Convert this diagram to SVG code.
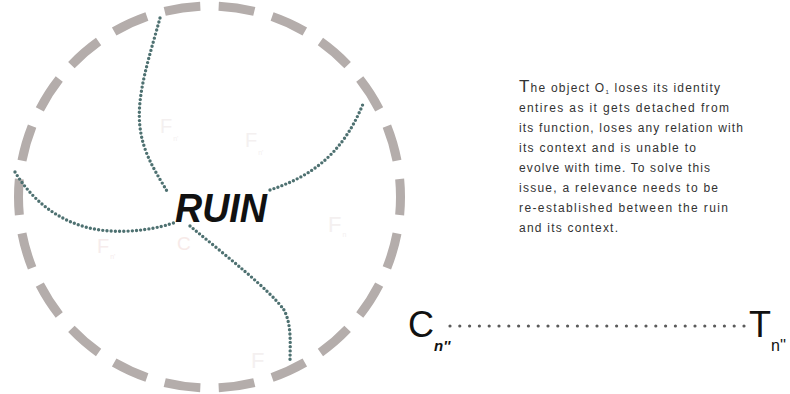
<svg xmlns="http://www.w3.org/2000/svg" width="790" height="394" viewBox="0 0 790 394">
  <style>
    .ring { fill: none; stroke: #b4adab; stroke-width: 9; stroke-dasharray: 0.66 0.34; stroke-dashoffset: 0.33; }
    .branch { fill: none; stroke: #4e7171; stroke-width: 3.4; stroke-linecap: round; stroke-dasharray: 0 4.2; }
    .link { fill: none; stroke: #5a5a5a; stroke-width: 3.2; stroke-linecap: round; stroke-dasharray: 0 9.8; }
    .ghost { font-family: "Liberation Sans", Arial, sans-serif; fill: #f4f0f0; }
    .ghost .sub { font-size: 7px; }
    .body { font-family: "Liberation Sans", Arial, sans-serif; font-size: 12px; fill: #333333; }
    .big { font-family: "Liberation Sans", Arial, sans-serif; fill: #111111; }
  </style>

  <rect width="790" height="394" fill="#ffffff"/>

  <!-- dashed boundary ring -->
  <g id="ring">
    <circle class="ring" cx="209.5" cy="197" r="191" pathLength="22"/>
  </g>

  <!-- faint function labels inside the ring -->
  <g id="faint-labels" class="ghost">
    <text x="160" y="133" font-size="20">F<tspan class="sub" dx="1" dy="8">n'</tspan></text>
    <text x="245" y="147" font-size="20">F<tspan class="sub" dx="1" dy="8">n'</tspan></text>
    <text x="97" y="253" font-size="20" fill="#f6ecec">F<tspan class="sub" dx="1" dy="6">n'</tspan></text>
    <text x="328" y="232" font-size="22">F<tspan class="sub" dx="1" dy="5">n</tspan></text>
    <text x="251" y="368" font-size="22">F</text>
    <text x="177" y="250" font-size="19" fill="#f7eae8">C</text>
  </g>

  <!-- dotted branches radiating from the ruin -->
  <g id="connectors">
    <path class="branch" d="M160,18 C150,55 136,95 140,127 C143,155 158,175 168,193"/>
    <path class="branch" d="M270,190 C305,178 340,160 363,104"/>
    <path class="branch" d="M15,172 C35,205 65,225 100,230 C130,234 160,228 176,222"/>
    <path class="branch" d="M190,226 C225,255 270,290 284,310 C292,325 290,345 290,363"/>
    <path class="link" d="M450,326 H745"/>
  </g>

  <!-- central label -->
  <g id="ruin">
    <text class="big" x="175" y="222" font-size="41" font-weight="bold" font-style="italic" textLength="92" lengthAdjust="spacingAndGlyphs">RUIN</text>
  </g>

  <!-- explanatory paragraph -->
  <g id="description" class="body">
    <text x="519" y="92" textLength="201"><tspan font-size="17">T</tspan>he object O<tspan font-size="6" dy="2">1</tspan><tspan dy="-2"> loses its identity</tspan></text>
    <text x="519" y="112" textLength="210">entires as it gets detached from</text>
    <text x="519" y="132" textLength="224">its function, loses any relation with</text>
    <text x="519" y="152" textLength="177">its context and is unable to</text>
    <text x="519" y="172" textLength="191">evolve with time. To solve this</text>
    <text x="519" y="192" textLength="199">issue, a relevance needs to be</text>
    <text x="519" y="212" textLength="209">re-established between the ruin</text>
    <text x="519" y="232" textLength="99">and its context.</text>
  </g>

  <!-- context node -->
  <g id="context">
    <text class="big" x="408" y="337" font-size="36">C</text>
    <text class="big" x="434" y="351" font-size="15" font-weight="bold" font-style="italic">n''</text>
  </g>

  <!-- time node -->
  <g id="time">
    <text class="big" x="749" y="337" font-size="36">T</text>
    <text class="big" x="771" y="351" font-size="16">n''</text>
  </g>
</svg>
